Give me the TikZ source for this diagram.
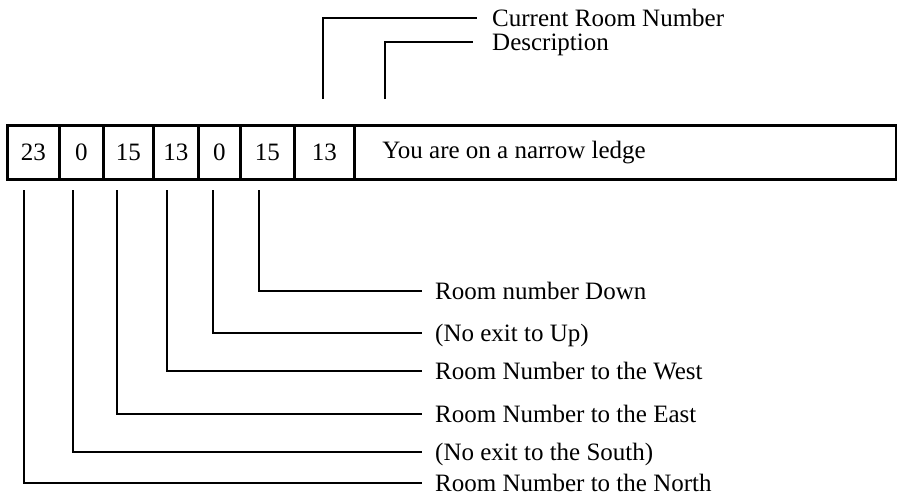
\documentclass[tikz,border=0pt]{standalone}
\usepackage{fontspec}
\setmainfont{Liberation Serif}
\begin{document}
\begin{tikzpicture}[x=1pt,y=-1pt,
  txt/.style={font=\fontsize{25}{30}\selectfont},
  cell/.style={txt, draw, line width=2.8pt, minimum height=54pt, inner sep=0pt, anchor=north west},
  lab/.style={txt, anchor=base west, inner sep=0pt},
  lead/.style={line width=2.8pt}]
\useasboundingbox (0,0) rectangle (897,499);
% record cells
\node[cell, minimum width=52pt] (c1) at (6,124) {23};
\node[cell, minimum width=44pt] (c2) at (58,124) {0};
\node[cell, minimum width=50pt] (c3) at (102,124) {15};
\node[cell, minimum width=45pt] (c4) at (152,124) {13};
\node[cell, minimum width=42pt] (c5) at (197,124) {0};
\node[cell, minimum width=54pt] (c6) at (239,124) {15};
\node[cell, minimum width=60pt] (c7) at (293,124) {13};
\node[cell, inner xsep=28pt] (c8) at (353,124) {\makebox[486pt][l]{You are on a narrow ledge}};
% labels above
\node[lab] (lcur) at (492,26.5) {Current Room Number};
\node[lab] (ldes) at (492,50.5) {Description};
% labels below
\node[lab] (ldown) at (435,299.5) {Room number Down};
\node[lab] (lup) at (435,341.5) {(No exit to Up)};
\node[lab] (lwest) at (435,379.5) {Room Number to the West};
\node[lab] (least) at (435,422.5) {Room Number to the East};
\node[lab] (lsouth) at (435,460.5) {(No exit to the South)};
\node[lab] (lnorth) at (435,491.5) {Room Number to the North};
% free ends of the leaders
\coordinate (t7) at (323,99);
\coordinate (t8) at (385,99);
\coordinate (s1) at (24,190);
\coordinate (s2) at (73,190);
\coordinate (s3) at (117,190);
\coordinate (s4) at (167,190);
\coordinate (s5) at (213,190);
\coordinate (s6) at (259,190);
% leaders
\draw[lead] (t7) |- ([shift={(-15,-8.5)}]lcur.base west);
\draw[lead] (t8) |- ([shift={(-19,-8.5)}]ldes.base west);
\draw[lead] (s6) |- ([shift={(-13,-8.5)}]ldown.base west);
\draw[lead] (s5) |- ([shift={(-13,-8.5)}]lup.base west);
\draw[lead] (s4) |- ([shift={(-13,-8.5)}]lwest.base west);
\draw[lead] (s3) |- ([shift={(-13,-8.5)}]least.base west);
\draw[lead] (s2) |- ([shift={(-13,-8.5)}]lsouth.base west);
\draw[lead] (s1) |- ([shift={(-13,-8.5)}]lnorth.base west);
\end{tikzpicture}
\end{document}
